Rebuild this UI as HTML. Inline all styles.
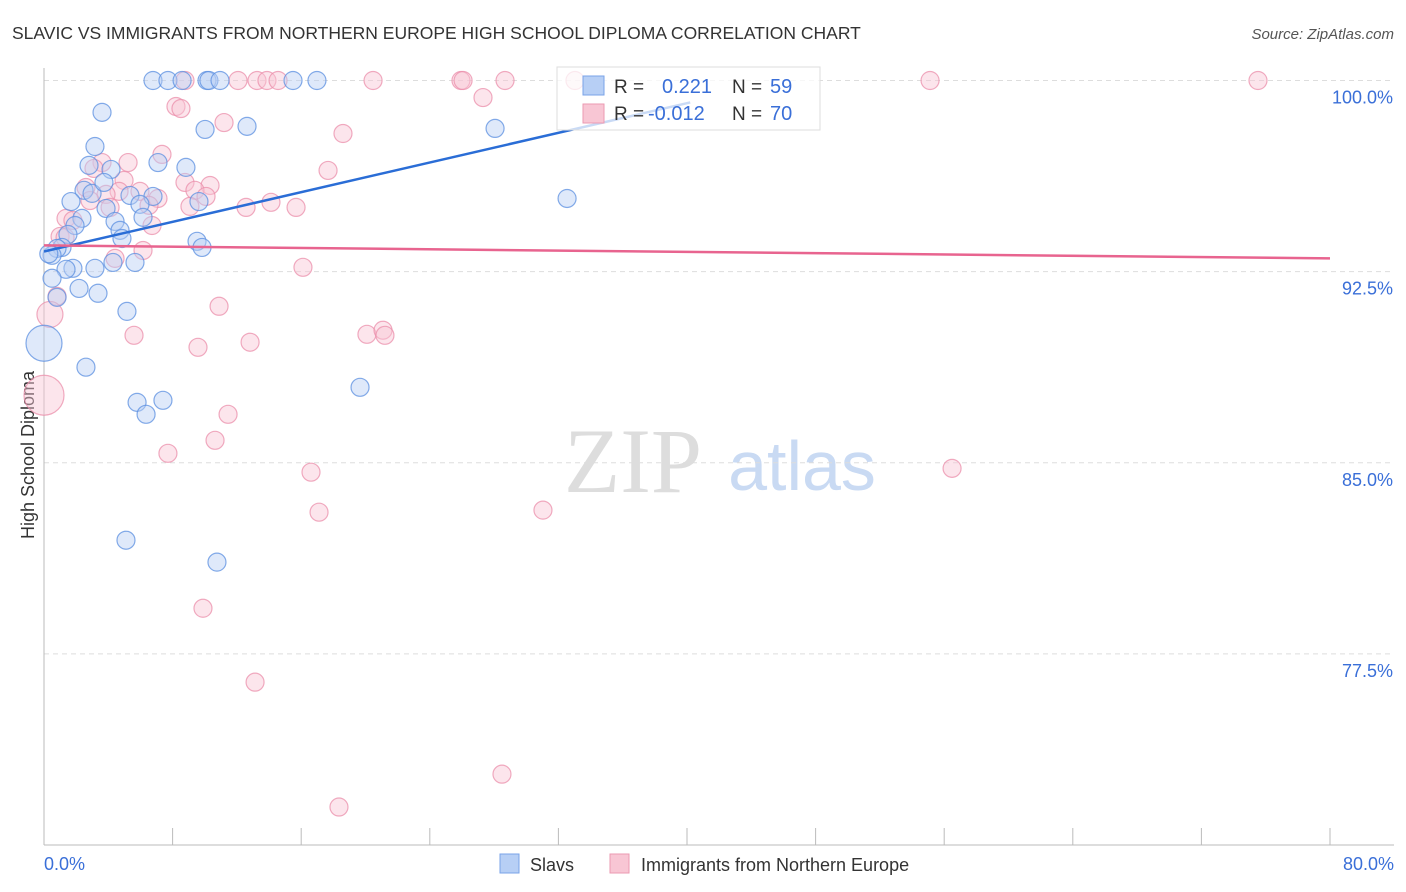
<!DOCTYPE html>
<html><head><meta charset="utf-8">
<style>
body{margin:0;background:#fff;font-family:"Liberation Sans",sans-serif;}
#wrap{position:relative;width:1406px;height:892px;overflow:hidden;}
</style></head>
<body>
<div id="wrap">
<svg id="chart" width="1406" height="892" xmlns="http://www.w3.org/2000/svg">
<text x="12" y="39" font-size="17.5" fill="#333">SLAVIC VS IMMIGRANTS FROM NORTHERN EUROPE HIGH SCHOOL DIPLOMA CORRELATION CHART</text>
<text x="1394" y="39" font-size="15" fill="#555" font-style="italic" text-anchor="end">Source: ZipAtlas.com</text>
<text transform="translate(34,455) rotate(-90)" font-size="18" fill="#333" text-anchor="middle">High School Diploma</text>
<g>
<text x="633" y="492" font-size="92" fill="#ddd" font-family="Liberation Serif,serif" text-anchor="middle">ZIP</text>
<text x="802" y="490" font-size="70" fill="#c9daf3" text-anchor="middle">atlas</text>
</g>
<g id="grid"></g>
<g id="axes"></g>
<g id="pts"></g>
<g id="trends"></g>
<g>
<rect x="557" y="67" width="263" height="63" fill="#fff" fill-opacity="0.75" stroke="#ddd"/>
<rect x="583" y="76" width="21" height="19" fill="#b7cff5" stroke="#7aa3e8"/>
<rect x="583" y="104" width="21" height="19" fill="#f8c6d4" stroke="#eb9ab2"/>
<text x="614" y="93" font-size="19" fill="#333">R = </text><text x="662" y="93" font-size="20" fill="#3a6fd8">0.221</text>
<text x="732" y="93" font-size="19" fill="#333">N = </text><text x="770" y="93" font-size="20" fill="#3a6fd8">59</text>
<text x="614" y="120" font-size="19" fill="#333">R = </text><text x="648" y="120" font-size="20" fill="#3a6fd8">-0.012</text>
<text x="732" y="120" font-size="19" fill="#333">N = </text><text x="770" y="120" font-size="20" fill="#3a6fd8">70</text>
</g>
<g>
<rect x="500" y="854" width="19" height="19" fill="#b7cff5" stroke="#7aa3e8"/>
<text x="530" y="871" font-size="18" fill="#333">Slavs</text>
<rect x="610" y="854" width="19" height="19" fill="#f8c6d4" stroke="#eb9ab2"/>
<text x="641" y="871" font-size="18" fill="#333">Immigrants from Northern Europe</text>
</g>
</svg>
</div>
<script>
const yTicks=[77.5,85.0,92.5,100.0];
const xTickLabels=["0.0%","80.0%"];
const slavsX=[6.78,7.71,8.59,10.14,10.26,10.95,15.49,16.98,3.61,10.02,12.63,28.06,3.17,2.80,7.09,8.83,4.17,2.49,2.99,3.73,1.68,5.35,6.78,5.97,9.64,3.86,2.36,1.93,4.42,4.73,4.85,6.16,1.49,1.12,0.81,9.52,9.83,32.54,0.50,3.17,4.29,5.66,1.80,1.37,0.50,0.81,2.18,3.36,5.16,2.61,5.79,7.40,6.35,19.66,5.10,10.76,0,0.3];
const slavsY=[100,100,100,100,100,100,100,100,98.75,98.08,98.20,98.12,97.41,96.67,96.78,96.59,96.51,95.69,95.57,96.0,95.25,95.49,95.45,95.14,95.25,94.98,94.59,94.31,94.47,94.12,93.80,94.63,93.96,93.45,93.41,93.69,93.45,95.37,93.14,92.63,92.86,92.86,92.63,92.59,92.24,91.49,91.84,91.65,90.94,88.75,87.37,87.45,86.90,87.96,81.96,81.10,89.69,93.2];
const slavsR=[9,9,9,9,9,9,9,9,9,9,9,9,9,9,9,9,9,9,9,9,9,9,9,9,9,9,9,9,9,9,9,9,9,9,9,9,9,9,9,9,9,9,9,9,9,9,9,9,9,9,9,9,9,9,9,9,18,9];
const immX=[8.77,12.07,13.25,13.87,14.56,20.47,25.94,26.07,28.68,33.03,55.12,75.52,27.31,8.21,8.52,11.20,18.60,7.34,3.61,5.23,3.11,17.67,8.77,4.98,10.33,2.61,4.67,5.97,3.86,9.39,10.08,2.86,7.09,12.57,14.12,15.68,9.08,6.53,4.11,1.37,1.80,6.72,1.0,6.16,4.42,16.11,0.81,0.37,10.89,5.60,9.58,12.82,20.09,21.09,21.21,0,11.45,10.64,7.71,16.61,56.49,17.11,31.04,9.89,13.13,28.49,18.35,1.31];
const immY=[100,100,100,100,100,100,100,100,100,100,100,100,99.33,98.98,98.90,98.35,97.92,97.10,96.78,96.78,96.55,96.47,96.0,96.08,95.88,95.80,95.65,95.65,95.53,95.69,95.45,95.29,95.37,95.02,95.22,95.02,95.06,95.10,95.02,94.59,94.51,94.31,93.88,93.33,93.02,92.67,91.53,90.82,91.14,90.0,89.53,89.73,90.04,90.20,90.0,87.65,86.90,85.88,85.37,84.63,84.78,83.06,83.14,79.29,76.39,72.78,71.49,93.84];
const immR=[9,9,9,9,9,9,9,9,9,9,9,9,9,9,9,9,9,9,9,9,9,9,9,9,9,9,9,9,9,9,9,9,9,9,9,9,9,9,9,9,9,9,9,9,9,9,9,13,9,9,9,9,9,9,9,20,9,9,9,9,9,9,9,9,9,9,9,9];
const slavsTrendX=[0,40.2];
const slavsTrendY=[93.29,99.14];
const immTrendX=[0,80];
const immTrendY=[93.53,93.02];

const NS="http://www.w3.org/2000/svg";
const X0=44,X1=1330,Y0=845,Y1=80.5;
function sx(v){return X0+(v-0)/(80-0)*(X1-X0);}
function sy(v){return Y0-(v-70)/(100-70)*(Y0-Y1);}
function mk(tag,attrs,parent){const e=document.createElementNS(NS,tag);for(const k in attrs)e.setAttribute(k,attrs[k]);parent.appendChild(e);return e;}
const grid=document.getElementById('grid'),axes=document.getElementById('axes'),pts=document.getElementById('pts'),tr=document.getElementById('trends');
yTicks.forEach(t=>{
 const l=mk('line',{x1:X0,x2:1394,y1:sy(t),y2:sy(t),stroke:'#ddd','stroke-dasharray':'5,4'},grid);
 
 
 const tx=mk('text',{x:1393,y:sy(t)+23,'font-size':18,fill:'#3a6fd8','text-anchor':'end'},grid);
 tx.textContent=t.toFixed(1)+'%';
 
 
});
const la=mk('line',{x1:X0,x2:X0,y1:68,y2:Y0,stroke:'#bbb'},axes);


const ba=mk('line',{x1:X0,x2:1394,y1:Y0,y2:Y0,stroke:'#bbb'},axes);


for(let i=0;i<=10;i++){
 const v=i*8;
 const tk=mk('line',{x1:sx(v),x2:sx(v),y1:828,y2:Y0,stroke:'#bbb'},axes);
 
 
}
const xl0=mk('text',{x:44,y:870,'font-size':18,fill:'#3a6fd8'},axes);
xl0.textContent=xTickLabels[0];


const xl1=mk('text',{x:1394,y:870,'font-size':18,fill:'#3a6fd8','text-anchor':'end'},axes);
xl1.textContent=xTickLabels[1];


function drawSeries(xs,ys,rs,fill,stroke,name){
 xs.forEach((x,i)=>{
  const c=mk('circle',{cx:sx(x),cy:sy(ys[i]),r:rs[i],fill:fill,'fill-opacity':0.45,stroke:stroke,'stroke-opacity':0.75,'stroke-width':1.2},pts);
  
  
 });
}
drawSeries(immX,immY,immR,'#f8c6d4','#eb8fab','immigrants-point');
drawSeries(slavsX,slavsY,slavsR,'#b7cff5','#5b8fe0','slavs-point');
const t1=mk('line',{x1:sx(slavsTrendX[0]),y1:sy(slavsTrendY[0]),x2:sx(slavsTrendX[1]),y2:sy(slavsTrendY[1]),stroke:'#2a6dd6','stroke-width':2.5},tr);


const t2=mk('line',{x1:sx(immTrendX[0]),y1:sy(immTrendY[0]),x2:sx(immTrendX[1]),y2:sy(immTrendY[1]),stroke:'#e8648f','stroke-width':2.5},tr);


</script>
</body></html>
